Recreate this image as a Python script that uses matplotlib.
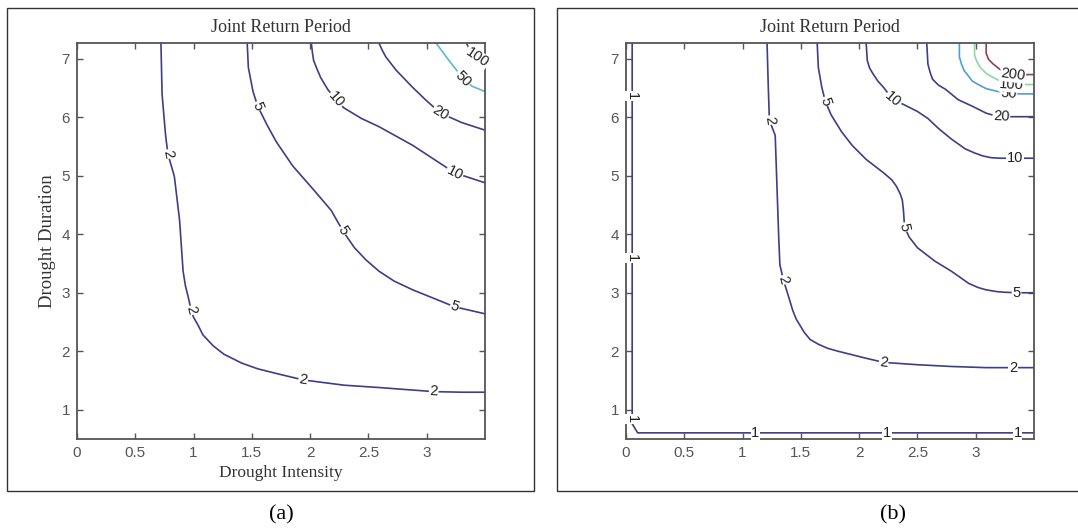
import numpy as np
import matplotlib.pyplot as plt
from matplotlib.patches import Rectangle

# Contour lines of joint return period
# (x = drought intensity, y = drought duration)

# Panel (a)
a2_x = [0.72, 0.73, 0.76, 0.78, 0.835, 0.88, 0.91, 0.93, 0.95, 0.98, 1.00, 1.04, 1.08, 1.17, 1.26, 1.41, 1.55, 1.71, 1.94, 2.29, 2.59, 3.06, 3.30, 3.50]
a2_y = [7.27, 6.39, 5.69, 5.37, 4.99, 4.24, 3.37, 3.12, 2.96, 2.70, 2.58, 2.44, 2.28, 2.09, 1.95, 1.80, 1.70, 1.62, 1.51, 1.42, 1.38, 1.31, 1.30, 1.30]
a5_x = [1.46, 1.47, 1.51, 1.55, 1.63, 1.71, 1.85, 2.03, 2.18, 2.28, 2.38, 2.48, 2.59, 2.72, 2.88, 3.24, 3.50]
a5_y = [7.27, 6.85, 6.44, 6.19, 5.87, 5.58, 5.17, 4.76, 4.41, 4.06, 3.77, 3.56, 3.37, 3.20, 3.05, 2.76, 2.64]
a10_x = [2.01, 2.02, 2.03, 2.06, 2.09, 2.15, 2.22, 2.29, 2.44, 2.59, 2.88, 3.24, 3.50]
a10_y = [7.27, 7.10, 6.97, 6.82, 6.68, 6.48, 6.30, 6.16, 5.98, 5.84, 5.52, 5.05, 4.88]
a20_x = [2.59, 2.62, 2.65, 2.74, 2.88, 3.00, 3.12, 3.30, 3.50]
a20_y = [7.27, 7.14, 7.03, 6.80, 6.51, 6.28, 6.07, 5.91, 5.78]
a50_x = [3.08, 3.18, 3.27, 3.31, 3.39, 3.50]
a50_y = [7.27, 7.00, 6.77, 6.66, 6.53, 6.44]
a100_x = [3.34, 3.38, 3.43, 3.50]
a100_y = [7.27, 7.12, 7.02, 6.96]

# Panel (b)
b1_x = [0.053, 0.053, 0.053, 0.053, 0.053, 0.10, 1.11, 2.24, 3.36, 3.50]
b1_y = [7.27, 6.36, 3.59, 0.84, 0.76, 0.605, 0.605, 0.605, 0.605, 0.605]
b2_x = [1.21, 1.22, 1.23, 1.28, 1.29, 1.31, 1.32, 1.35, 1.40, 1.43, 1.46, 1.53, 1.58, 1.65, 1.73, 1.82, 2.06, 2.21, 2.50, 2.79, 3.09, 3.32, 3.50]
b2_y = [7.27, 6.56, 5.95, 5.69, 5.11, 3.95, 3.48, 3.22, 2.90, 2.70, 2.55, 2.32, 2.20, 2.12, 2.05, 2.00, 1.88, 1.81, 1.77, 1.74, 1.72, 1.72, 1.72]
b5_x = [1.64, 1.65, 1.68, 1.71, 1.76, 1.85, 1.94, 2.06, 2.21, 2.28, 2.32, 2.35, 2.37, 2.38, 2.39, 2.43, 2.50, 2.65, 2.79, 2.94, 3.02, 3.09, 3.18, 3.24, 3.35, 3.50]
b5_y = [7.27, 6.85, 6.51, 6.27, 6.04, 5.75, 5.52, 5.28, 5.05, 4.93, 4.82, 4.70, 4.59, 4.41, 4.12, 3.95, 3.77, 3.54, 3.37, 3.16, 3.09, 3.05, 3.02, 3.01, 3.00, 3.00]
b10_x = [2.06, 2.07, 2.09, 2.12, 2.16, 2.21, 2.29, 2.38, 2.50, 2.59, 2.68, 2.79, 2.91, 2.99, 3.06, 3.13, 3.21, 3.34, 3.50]
b10_y = [7.27, 6.97, 6.84, 6.74, 6.62, 6.51, 6.30, 6.22, 6.10, 5.98, 5.81, 5.63, 5.46, 5.39, 5.34, 5.31, 5.30, 5.30, 5.30]
b20_x = [2.58, 2.59, 2.61, 2.63, 2.68, 2.74, 2.85, 2.97, 3.09, 3.16, 3.22, 3.38, 3.50]
b20_y = [7.27, 6.91, 6.76, 6.65, 6.55, 6.48, 6.30, 6.19, 6.07, 6.03, 6.01, 6.01, 6.01]
b50_x = [2.86, 2.86, 2.88, 2.90, 2.94, 2.97, 3.03, 3.09, 3.21, 3.28, 3.50]
b50_y = [7.27, 7.03, 6.90, 6.80, 6.70, 6.62, 6.55, 6.49, 6.43, 6.40, 6.40]
b100_x = [2.99, 2.99, 3.01, 3.04, 3.09, 3.15, 3.24, 3.31, 3.50]
b100_y = [7.27, 7.06, 6.95, 6.85, 6.75, 6.68, 6.59, 6.56, 6.56]
b200_x = [3.09, 3.09, 3.11, 3.15, 3.22, 3.32, 3.50]
b200_y = [7.27, 7.09, 6.99, 6.91, 6.80, 6.73, 6.73]

x_ticks = [0, 0.5, 1, 1.5, 2, 2.5, 3]
x_ticklabels = ['0', '0.5', '1', '1.5', '2', '2.5', '3']
y_ticks = [1, 2, 3, 4, 5, 6, 7]

navy = '#3e3e86'
# (level, x, y, colour, vertex indices that carry a label)
panel_a = [
    (2, a2_x, a2_y, navy, [3, 9, 18, 21]),
    (5, a5_x, a5_y, navy, [3, 9, 15]),
    (10, a10_x, a10_y, navy, [6, 11]),
    (20, a20_x, a20_y, navy, [6]),
    (50, a50_x, a50_y, '#5fb8cc', [3]),
    (100, a100_x, a100_y, '#6e4446', [2]),
]
panel_b = [
    (1, b1_x, b1_y, navy, [1, 2, 3, 6, 7, 8]),
    (2, b2_x, b2_y, navy, [2, 7, 17, 21]),
    (5, b5_x, b5_y, navy, [3, 14, 24]),
    (10, b10_x, b10_y, navy, [6, 17]),
    (20, b20_x, b20_y, navy, [10]),
    (50, b50_x, b50_y, '#4f9fd2', [9]),
    (100, b100_x, b100_y, '#8fd6a6', [7]),
    (200, b200_x, b200_y, '#8e4352', [5]),
]

W, H = 1078, 531
fig = plt.figure(figsize=(W / 100, H / 100), dpi=100)

# Panel frames
fig.add_artist(Rectangle((7 / W, 1 - 491 / H), 527 / W, 483 / H, transform=fig.transFigure,
                         fill=False, ec='#333333', lw=1.0))
fig.add_artist(Rectangle((557 / W, 1 - 491 / H), 530 / W, 483 / H, transform=fig.transFigure,
                         fill=False, ec='#333333', lw=1.0))

ax_a = fig.add_axes([77 / W, 1 - 439 / H, 408 / W, 396 / H])
ax_b = fig.add_axes([626 / W, 1 - 439 / H, 408 / W, 396 / H])


def draw_panel(ax, lines):
    ax.set_xlim(0, 3.5)
    ax.set_ylim(0.5, 7.27)
    ax.set_xticks(x_ticks)
    ax.set_xticklabels(x_ticklabels)
    ax.set_yticks(y_ticks)
    ax.tick_params(direction='in', length=4, width=1, top=True, right=True,
                   labelsize=11, labelcolor='#555555', color='#555555', pad=5)
    for lab in ax.get_xticklabels() + ax.get_yticklabels():
        lab.set_family('Liberation Sans')
    for s in ax.spines.values():
        s.set_color('#555555')
        s.set_linewidth(1.3)
    ax.text(0.5, 1 + 16 / 396, 'Joint Return Period', transform=ax.transAxes,
            ha='center', va='center', family='Liberation Serif', fontsize=13, color='#333333')

    for level, xs, ys, col, idx in lines:
        ax.plot(xs, ys, color=col, lw=1.2, zorder=2)
        pts = ax.transData.transform(np.column_stack([xs, ys]))
        for i in idx:
            j0 = max(i - 1, 0)
            j1 = min(i + 1, len(xs) - 1)
            dx, dy = pts[j1] - pts[j0]
            ang = np.degrees(np.arctan2(dy, dx))
            ax.text(xs[i], ys[i], str(level), rotation=ang, rotation_mode='anchor',
                    ha='center', va='center', fontsize=10.5, color='#222222',
                    family='Liberation Sans', zorder=3,
                    bbox=dict(boxstyle='square,pad=0.05', fc='white', ec='none'))


draw_panel(ax_a, panel_a)
draw_panel(ax_b, panel_b)

ax_a.set_xlabel('Drought Intensity', family='Liberation Serif', fontsize=12.5, color='#333333')
ax_a.xaxis.set_label_coords(0.5, -26 / 396)
ax_a.set_ylabel('Drought Duration', family='Liberation Serif', fontsize=13.5, color='#333333')
ax_a.yaxis.set_label_coords(-21 / 408, 0.5)

fig.text(281 / W, 1 - 515 / H, '(a)', ha='center', va='center',
         family='Liberation Serif', fontsize=16)
fig.text(893 / W, 1 - 515 / H, '(b)', ha='center', va='center',
         family='Liberation Serif', fontsize=16)

fig.savefig('out.png', dpi=100)
